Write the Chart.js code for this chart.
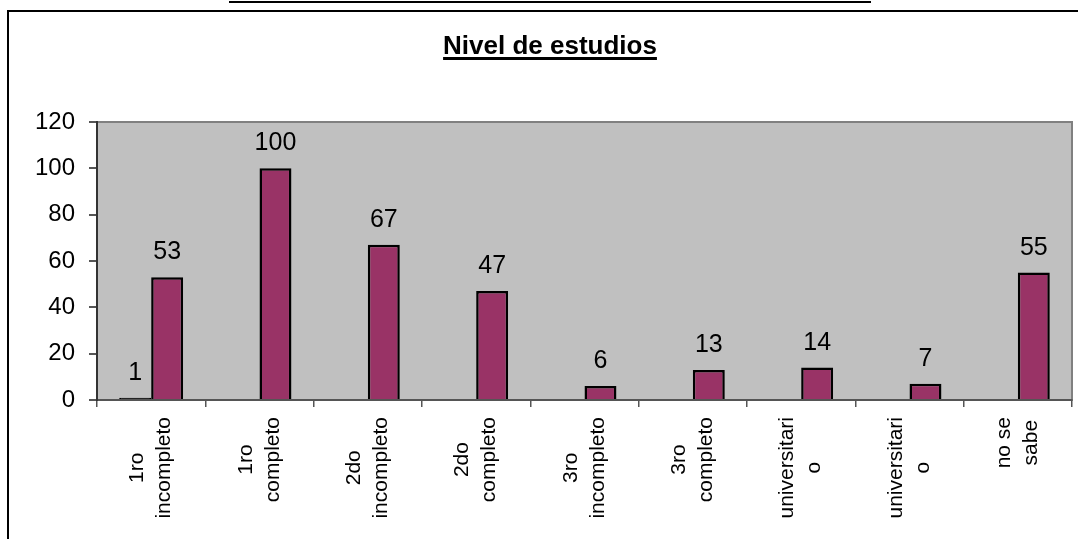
<!DOCTYPE html>
<html>
<head>
<meta charset="utf-8">
<script src="https://cdn.jsdelivr.net/npm/chart.js@4.4.0/dist/chart.umd.min.js"></script>
<style>
  html, body { margin: 0; padding: 0; background: #fff; }
  #wrap { position: relative; width: 1078px; height: 539px; }
  #topline { position: absolute; left: 229px; top: 1px; width: 642px; height: 2px; background: #000; }
  canvas { display: block; }
</style>
</head>
<body>
<div id="wrap">
  <div id="topline"></div>
  <canvas id="chart" width="1078" height="539"></canvas>
</div>
<script>
const FONT = "'Liberation Sans', Arial, sans-serif";

// data
const categories = [
  ['1ro', 'incompleto'],
  ['1ro', 'completo'],
  ['2do', 'incompleto'],
  ['2do', 'completo'],
  ['3ro', 'incompleto'],
  ['3ro', 'completo'],
  ['universitari', 'o'],
  ['universitari', 'o'],
  ['no se', 'sabe']
];
const serie1 = [1, null, null, null, null, null, null, null, null];
const serie2 = [53, 100, 67, 47, 6, 13, 14, 7, 55];
const yTicks = [0, 20, 40, 60, 80, 100, 120];
const title = 'Nivel de estudios';

// frame + grey plot background
const background = {
    id: 'background',
    beforeDraw(c) {
        const ctx = c.ctx;
        const a = c.chartArea;
        ctx.save();
        ctx.strokeStyle = '#000';
        ctx.lineWidth = 2;
        ctx.beginPath();
        ctx.moveTo(8, c.height);
        ctx.lineTo(8, 11);
        ctx.lineTo(c.width, 11);
        ctx.stroke();
        ctx.fillStyle = '#c0c0c0';
        ctx.fillRect(a.left, a.top, a.right - a.left, a.bottom - a.top);
        ctx.strokeStyle = '#808080';
        ctx.lineWidth = 2;
        ctx.strokeRect(a.left, a.top, a.right - a.left, a.bottom - a.top);
        ctx.restore();
    }
};

// underlined title
const titlePlugin = {
    id: 'titlePlugin',
    afterDraw(c) {
        const ctx = c.ctx;
        ctx.save();
        ctx.font = 'bold 26px ' + FONT;
        ctx.fillStyle = '#000';
        ctx.textAlign = 'center';
        ctx.textBaseline = 'alphabetic';
        const cx = 550;
        ctx.fillText(title, cx, 54);
        const w = ctx.measureText(title).width;
        ctx.fillRect(cx - w / 2, 57, w, 3);
        ctx.restore();
    }
};

// value labels above bars
const valueLabels = {
    id: 'valueLabels',
    afterDatasetsDraw(c) {
        const ctx = c.ctx;
        ctx.save();
        ctx.font = '25px ' + FONT;
        ctx.fillStyle = '#000';
        ctx.textAlign = 'center';
        ctx.textBaseline = 'alphabetic';
        c.data.datasets.forEach((ds, i) => {
            c.getDatasetMeta(i).data.forEach((bar, j) => {
                const v = ds.data[j];
                if (v === null || v === undefined) return;
                ctx.fillText(String(v), bar.x, bar.y - 18);
            });
        });
        ctx.restore();
    }
};

// rotated, centred category labels
const xLabels = {
    id: 'xLabels',
    afterDraw(c) {
        const ctx = c.ctx;
        const s = c.scales.x;
        ctx.save();
        ctx.font = '21px ' + FONT;
        ctx.fillStyle = '#000';
        ctx.textAlign = 'center';
        ctx.textBaseline = 'middle';
        categories.forEach((lines, i) => {
            const x = s.getPixelForTick(i);
            const maxW = Math.max(...lines.map(l => ctx.measureText(l).width));
            const cy = s.top + 17 + maxW / 2;
            ctx.save();
            ctx.translate(x, cy);
            ctx.rotate(-Math.PI / 2);
            lines.forEach((l, k) => {
                ctx.fillText(l, 0, (k - (lines.length - 1) / 2) * 27);
            });
            ctx.restore();
        });
        ctx.restore();
    }
};

new Chart(document.querySelector('#chart').getContext('2d'), {
    type: 'bar',
    data: {
        labels: categories,
        datasets: [
            {
                label: 'Serie 1',
                data: serie1,
                backgroundColor: '#000',
                borderColor: '#000',
                borderWidth: 2,
                categoryPercentage: 0.59,
                barPercentage: 1.0
            },
            {
                label: 'Serie 2',
                data: serie2,
                backgroundColor: '#993366',
                borderColor: '#000',
                borderWidth: 2.5,
                categoryPercentage: 0.59,
                barPercentage: 1.0
            }
        ]
    },
    options: {
        responsive: false,
        animation: false,
        layout: { padding: { top: 122, right: 6, left: 0, bottom: 0 } },
        plugins: {
            legend: { display: false },
            tooltip: { enabled: false },
            title: { display: false }
        },
        scales: {
            x: {
                offset: true,
                grid: { offset: true, drawOnChartArea: false, tickLength: 7, color: '#555', lineWidth: 1.5 },
                border: { color: '#555', width: 2 },
                ticks: { display: false },
                afterFit: s => { s.height = 139; }
            },
            y: {
                min: 0,
                max: 120,
                afterBuildTicks: s => { s.ticks = yTicks.map(v => ({ value: v })); },
                ticks: { font: { size: 24, family: FONT }, color: '#000', padding: 14 },
                grid: { drawOnChartArea: false, tickLength: 8, color: '#555', lineWidth: 2 },
                border: { color: '#333', width: 2 },
                afterFit: s => { s.width = 97; }
            }
        }
    },
    plugins: [background, titlePlugin, valueLabels, xLabels]
});
</script>
</body>
</html>
